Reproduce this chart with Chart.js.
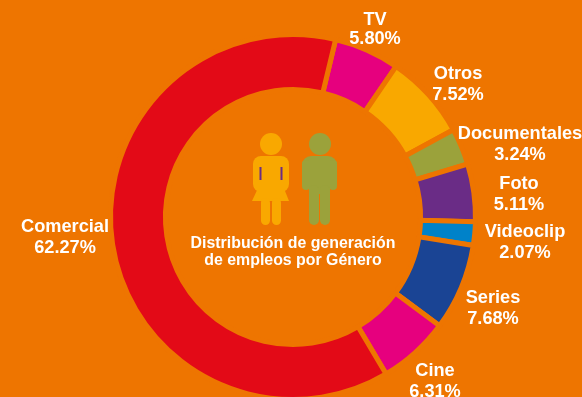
<!DOCTYPE html>
<html><head><meta charset="utf-8">
<style>html,body{margin:0;padding:0;background:#EE7500;overflow:hidden}#w{position:relative;width:582px;height:397px;overflow:hidden}canvas{display:block}</style>
<script src="https://cdn.jsdelivr.net/npm/chart.js@4"></script></head>
<body><div id="w"><canvas id="c" width="582" height="410"></canvas></div>
<script>
const categories=["TV","Otros","Documentales","Foto","Videoclip","Series","Cine","Comercial"];
const values=[5.80,7.52,3.24,5.11,2.07,7.68,6.31,62.27];
const valueLabels=["5.80%","7.52%","3.24%","5.11%","2.07%","7.68%","6.31%","62.27%"];
const colors=["#E6007E","#F9A800","#9BA23B","#6A2C86","#0082C9","#1A4494","#E6007E","#E30A17"];
const labelAnchors=[[375,20],[458,74],[520,134],[519,184],[525,232],[493,298],[435,371],[65,227]];
const centerTitle=["Distribución de generación","de empleos por Género"];
const BG="#EE7500";
let ctx;
function rr(x,y,w,h,r){const c=ctx;c.beginPath();c.roundRect(x,y,w,h,r);c.fill();}
const overlay={id:"overlay",afterDraw(chart){
  ctx=chart.ctx;const c=ctx;c.save();
  c.fillStyle="#fff";c.textAlign="center";c.textBaseline="middle";
  c.font='bold 18.2px "Liberation Sans"';
  categories.forEach((n,i)=>{const [x,y]=labelAnchors[i];c.fillText(n,x,y);c.fillText(valueLabels[i],x,y+(i===0?18.5:21));});
  c.font='bold 15.9px "Liberation Sans"';
  c.fillText(centerTitle[0],293,244);c.fillText(centerTitle[1],293,261);
  c.fillStyle="#F9A800";
  c.beginPath();c.arc(271,144,11,0,7);c.fill();
  rr(253,156,36,36,8);
  c.beginPath();c.moveTo(259,186);c.lineTo(283,186);c.lineTo(289,201);c.lineTo(252,201);c.closePath();c.fill();
  rr(261,198,9,27,4.5);rr(272,198,9,27,4.5);
  c.fillStyle="#6A2C86";c.fillRect(259.5,167,2,13);c.fillRect(280.5,167,2,13);
  c.fillStyle="#9BA23B";
  c.beginPath();c.arc(320,144,11,0,7);c.fill();
  rr(302,156,35,24,9);
  rr(302,160,8,30,4);rr(329,160,8,30,4);
  rr(309,160,21,34,0);
  rr(309,185,10,40,5);rr(320,185,10,40,5);
  c.restore();
}};
new Chart(document.getElementById("c"),{type:"doughnut",
 data:{labels:categories,datasets:[{data:values,backgroundColor:colors,borderColor:BG,borderWidth:5,borderJoinStyle:"miter",spacing:0}]},
 options:{responsive:false,animation:false,cutout:"69.9%",rotation:13.5,
  layout:{padding:{left:108,right:104,top:32,bottom:8}},
  plugins:{legend:{display:false},tooltip:{enabled:false},title:{display:false}}},
 plugins:[overlay]});
</script></body></html>
